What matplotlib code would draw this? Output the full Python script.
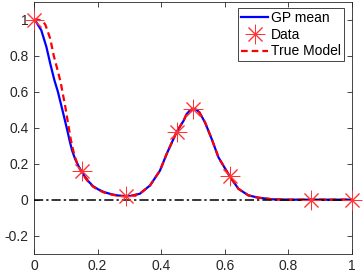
import matplotlib
matplotlib.use("Agg")
import matplotlib.pyplot as plt

# ---- data ----
gp_x = [0, 0.004, 0.023, 0.039, 0.051, 0.064, 0.075, 0.089, 0.0975, 0.106, 0.113,
        0.12, 0.129, 0.14, 0.15, 0.16, 0.171, 0.185, 0.202, 0.22, 0.244, 0.265,
        0.286, 0.302, 0.333, 0.365, 0.396, 0.417,
        0.449, 0.47, 0.48, 0.49, 0.501, 0.51, 0.52, 0.538, 0.559, 0.58, 0.616,
        0.643, 0.674, 0.705, 0.75, 0.8, 1.0]
gp_y = [1.0, 0.995, 0.94, 0.848, 0.756, 0.664, 0.60, 0.50, 0.438, 0.375, 0.32,
        0.272, 0.227, 0.186, 0.156, 0.128, 0.102, 0.076, 0.057, 0.042, 0.03, 0.023,
        0.02, 0.02, 0.033, 0.079, 0.161, 0.253,
        0.378, 0.437, 0.475, 0.495, 0.505, 0.5, 0.485, 0.428, 0.336, 0.235, 0.128,
        0.06, 0.024, 0.011, 0.002, 0.0, 0.0]

true_x = [0, 0.01, 0.02, 0.03, 0.036, 0.051, 0.062, 0.074, 0.084, 0.092, 0.099,
          0.105, 0.115, 0.123, 0.131, 0.14, 0.15, 0.16, 0.171, 0.185, 0.202, 0.22,
          0.244, 0.265, 0.286, 0.302, 0.333,
          0.365, 0.396, 0.417, 0.449, 0.47, 0.48, 0.49, 0.501, 0.51, 0.52, 0.538,
          0.559, 0.58, 0.616, 0.643, 0.674, 0.705, 0.75, 0.8, 1.0]
true_y = [1.0, 1.0, 0.995, 0.985, 0.97, 0.894, 0.80, 0.72, 0.65, 0.575, 0.51,
          0.445, 0.34, 0.275, 0.225, 0.183, 0.152, 0.124, 0.098, 0.073, 0.054, 0.04,
          0.028, 0.021, 0.018, 0.019, 0.033,
          0.079, 0.161, 0.253, 0.378, 0.437, 0.475, 0.495, 0.505, 0.5, 0.485, 0.428,
          0.336, 0.235, 0.128, 0.06, 0.024, 0.011, 0.002, 0.0, 0.0]

data_x = [0, 0.15, 0.29, 0.45, 0.5, 0.615, 0.87, 1.0]
data_y = [1.0, 0.158, 0.018, 0.378, 0.505, 0.13, 0.0, 0.0]

zero_x = [0, 1]
zero_y = [0, 0]

xticks = [0, 0.2, 0.4, 0.6, 0.8, 1.0]
xticklabels = ["0", "0.2", "0.4", "0.6", "0.8", "1"]
yticks = [-0.2, 0, 0.2, 0.4, 0.6, 0.8, 1.0]
yticklabels = ["-0.2", "0", "0.2", "0.4", "0.6", "0.8", "1"]

plt.rcParams['font.family'] = ['Liberation Sans', 'DejaVu Sans']

fig = plt.figure(figsize=(3.64, 2.74), dpi=100)
ax = fig.add_axes([34 / 364, 1 - 253.7 / 274, 318 / 364, 252.2 / 274])

l1, = ax.plot(gp_x, gp_y, color='#0000ff', lw=1.6, label='GP mean', zorder=2)
l3, = ax.plot(true_x, true_y, color='#ff0000', lw=1.6, ls=(0, (3, 1.8)),
              label='True Model', zorder=3)
ax.plot(zero_x, zero_y, color='black', lw=1.1, ls=(0, (6, 2, 1.5, 2)), zorder=4)
l2, = ax.plot(data_x, data_y, ls='none', marker=(8, 2, 0), markersize=14,
              markeredgewidth=0.7, color='#ff3333', label='Data', zorder=5,
              clip_on=False)

ax.set_xlim(0, 1)
ax.set_ylim(-0.3, 1.1)
ax.set_xticks(xticks)
ax.set_xticklabels(xticklabels)
ax.set_yticks(yticks)
ax.set_yticklabels(yticklabels)

for s in ax.spines.values():
    s.set_color('#262626')
    s.set_linewidth(0.6)
ax.tick_params(direction='in', length=3.5, width=0.6, colors='#262626',
               labelsize=10, top=True, right=True, pad=4)

leg = ax.legend(handles=[l1, l2, l3], loc='upper right',
                bbox_to_anchor=(0.975, 0.974), borderaxespad=0,
                fancybox=False, framealpha=1, edgecolor='#262626',
                fontsize=10, handlelength=2.0, handletextpad=0.2,
                labelspacing=0.2, borderpad=0.2)
leg.get_frame().set_linewidth(0.6)

fig.savefig('out.png', dpi=100)
